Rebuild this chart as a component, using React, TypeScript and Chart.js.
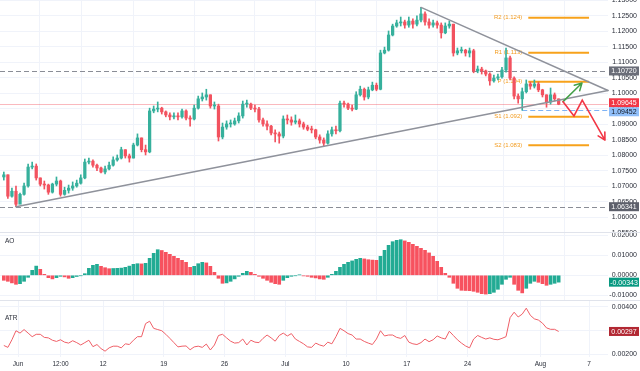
import React, { useEffect, useRef } from 'react';
import { Chart, registerables } from 'chart.js';

Chart.register(...registerables);

// ---------------- data ----------------
// 8-hour candles, first bar centred on day -7/6 (trading days counted from 1 Jun)
const firstOpen = 1.073;
const closes = [
  1.0737, 1.0668, 1.0684, 1.0642, 1.0674, 1.0701, 1.0762, 1.0765, 1.0727, 1.0707,
  1.0704, 1.0681, 1.0707, 1.0717, 1.0674, 1.0687, 1.0694, 1.0701, 1.071, 1.0727,
  1.0778, 1.0781, 1.0768, 1.0759, 1.0746, 1.0756, 1.0768, 1.0785, 1.0791, 1.0818,
  1.0798, 1.0791, 1.0833, 1.0856, 1.0818, 1.0811, 1.0943, 1.0949, 1.0952, 1.094,
  1.093, 1.0924, 1.0927, 1.0924, 1.0943, 1.092, 1.0917, 1.0952, 1.0982, 1.0988,
  1.0995, 1.0959, 1.0959, 1.0859, 1.0891, 1.0901, 1.0901, 1.0911, 1.0927, 1.0965,
  1.0965, 1.0952, 1.0949, 1.0914, 1.0901, 1.0894, 1.0872, 1.0869, 1.0862, 1.0917,
  1.0914, 1.0907, 1.0911, 1.0901, 1.0891, 1.0884, 1.0882, 1.0859, 1.0849, 1.0839,
  1.0869, 1.0882, 1.0879, 1.0968, 1.0965, 1.0952, 1.0949, 1.0995, 1.1013, 1.0988,
  1.1011, 1.1026, 1.1013, 1.113, 1.1139, 1.1188, 1.1217, 1.1227, 1.123, 1.122,
  1.1233, 1.1223, 1.1236, 1.1256, 1.123, 1.122, 1.1227, 1.122, 1.1195, 1.1217,
  1.1223, 1.113, 1.1137, 1.1139, 1.113, 1.1137, 1.1072, 1.1078, 1.1072, 1.1062,
  1.104, 1.1049, 1.1053, 1.1075, 1.1114, 1.1049, 1.0991, 1.0982, 1.1005, 1.103,
  1.1023, 1.103, 1.1011, 1.0995, 1.0972, 1.0995, 1.0982, 1.09645,
];
const highs = [
  1.0746, 1.0737, 1.0694, 1.0701, 1.0678, 1.071, 1.0772, 1.0778, 1.0772, 1.0727,
  1.0717, 1.0707, 1.071, 1.073, 1.072, 1.0697, 1.0704, 1.0714, 1.072, 1.0737,
  1.0788, 1.0791, 1.0785, 1.0772, 1.0762, 1.0765, 1.0778, 1.0795, 1.0801, 1.0826,
  1.0818, 1.0804, 1.0839, 1.0869, 1.0856, 1.0833, 1.0952, 1.0959, 1.0972, 1.0955,
  1.0943, 1.0937, 1.0937, 1.0937, 1.0949, 1.0947, 1.0927, 1.0962, 1.0991, 1.1001,
  1.1013, 1.0995, 1.0972, 1.0965, 1.0904, 1.0911, 1.0914, 1.092, 1.0937, 1.0975,
  1.0978, 1.0968, 1.0962, 1.0955, 1.092, 1.0911, 1.0897, 1.0882, 1.0875, 1.0927,
  1.093, 1.0924, 1.093, 1.0917, 1.0907, 1.0897, 1.0894, 1.0884, 1.0866, 1.0856,
  1.0879, 1.0891, 1.0894, 1.0975, 1.0975, 1.0968, 1.0962, 1.1005, 1.1023, 1.1017,
  1.102, 1.1036, 1.1033, 1.1139, 1.1149, 1.1201, 1.1223, 1.1236, 1.1246, 1.1236,
  1.1246, 1.124, 1.125, 1.1277, 1.1263, 1.124, 1.1236, 1.1233, 1.1227, 1.1227,
  1.1233, 1.1223, 1.1146, 1.1149, 1.1142, 1.1146, 1.1142, 1.1088, 1.1084, 1.1075,
  1.1066, 1.1059, 1.1062, 1.1084, 1.1146, 1.112, 1.1053, 1.0998, 1.1017, 1.1043,
  1.1036, 1.1043, 1.1036, 1.1013, 1.0995, 1.1017, 1.1001, 1.0982,
];
const lows = [
  1.072, 1.0661, 1.0665, 1.06341, 1.0655, 1.0671, 1.0697, 1.0756, 1.072, 1.0701,
  1.0691, 1.0674, 1.0678, 1.0701, 1.0668, 1.0671, 1.0678, 1.0687, 1.0697, 1.0707,
  1.0724, 1.0772, 1.0762, 1.075, 1.0743, 1.074, 1.0753, 1.0765, 1.0781, 1.0788,
  1.0791, 1.0778, 1.0791, 1.083, 1.0811, 1.0801, 1.0808, 1.0937, 1.094, 1.0933,
  1.0924, 1.0914, 1.0917, 1.0914, 1.092, 1.0914, 1.0894, 1.0914, 1.0949, 1.0975,
  1.0978, 1.0952, 1.0949, 1.0846, 1.0853, 1.0884, 1.0891, 1.0897, 1.0904, 1.092,
  1.0955, 1.0947, 1.094, 1.0907, 1.0894, 1.0882, 1.0866, 1.0843, 1.0839, 1.0856,
  1.0901, 1.0897, 1.0901, 1.0891, 1.0884, 1.0879, 1.0872, 1.0853, 1.0839, 1.0831,
  1.0836, 1.0862, 1.0869, 1.0875, 1.0955, 1.0947, 1.0943, 1.0947, 1.0991, 1.0978,
  1.0982, 1.1008, 1.1008, 1.1011, 1.1127, 1.1136, 1.1185, 1.1213, 1.1217, 1.121,
  1.1213, 1.121, 1.1217, 1.123, 1.122, 1.121, 1.1213, 1.121, 1.1178, 1.1192,
  1.121, 1.112, 1.1124, 1.113, 1.112, 1.1117, 1.1066, 1.1066, 1.1062, 1.1056,
  1.1026, 1.1036, 1.1043, 1.1049, 1.1068, 1.1043, 1.0982, 1.0968, 1.09452, 1.1001,
  1.1013, 1.1017, 1.1005, 1.0988, 1.0955, 1.0965, 1.0975, 1.0963,
];
const aoValues = [
  -0.0025, -0.003, -0.0038, -0.0045, -0.0042, -0.003, -0.001, 0.0025, 0.0046, 0.003,
  0.0005, -0.0012, -0.0018, -0.0012, -0.0005, -0.0008, -0.0015, -0.0012, -0.0006, -0.0002,
  0.0008, 0.0035, 0.005, 0.0055, 0.0045, 0.0038, 0.0033, 0.0034, 0.0035, 0.0036,
  0.004, 0.0046, 0.0055, 0.0058, 0.0057, 0.006, 0.0085, 0.011, 0.0128, 0.0124,
  0.0115, 0.0105, 0.0095, 0.0085, 0.0075, 0.0065, 0.004, 0.0045, 0.0058, 0.0065,
  0.0062, 0.0045, 0.0015, -0.0015, -0.004, -0.0038, -0.003, -0.0018, -0.0005, 0.001,
  0.002, 0.0015, 0.0005, -0.0005, -0.0015, -0.0025, -0.0035, -0.0042, -0.0045, -0.0025,
  -0.0012, -0.0005, -0.0002, 0.0002, -0.0003, -0.0005, -0.001, -0.0013, -0.0018, -0.002,
  -0.001, 0.0005, 0.002, 0.004, 0.0055, 0.0065, 0.0072, 0.008, 0.0085, 0.0082,
  0.0078, 0.0076, 0.0075, 0.0095, 0.0125, 0.015, 0.0168, 0.0175, 0.0178, 0.0172,
  0.0165, 0.0155, 0.0145, 0.0135, 0.0125, 0.0112, 0.0095, 0.007, 0.004, 0.001,
  -0.001, -0.004, -0.0065, -0.0075, -0.0076, -0.0077, -0.008, -0.0085, -0.0092, -0.0094,
  -0.0092, -0.0085, -0.007, -0.0045, -0.002, -0.001, -0.0045, -0.0075, -0.0088, -0.0065,
  -0.004, -0.003, -0.0035, -0.0042, -0.005, -0.0045, -0.004, -0.00343,
];
const atrValues = [
  0.00238, 0.0023, 0.00262, 0.003, 0.0029, 0.00305, 0.0029, 0.00275, 0.00285, 0.00285,
  0.00272, 0.0027, 0.0026, 0.00255, 0.00262, 0.00252, 0.00248, 0.00258, 0.0025, 0.0024,
  0.0025, 0.0026, 0.00233, 0.00242, 0.00225, 0.00214, 0.00228, 0.00235, 0.00235, 0.00228,
  0.00245, 0.00242, 0.0026, 0.00275, 0.00275, 0.0033, 0.0034, 0.0031, 0.00305, 0.003,
  0.00285, 0.00268, 0.0025, 0.00232, 0.00235, 0.00236, 0.0022, 0.00232, 0.00235, 0.0023,
  0.00244, 0.00219, 0.0024, 0.0028, 0.00285, 0.0027, 0.00256, 0.00248, 0.0025, 0.00265,
  0.0024, 0.0026, 0.00252, 0.0025, 0.00268, 0.00282, 0.0027, 0.00256, 0.0028, 0.0029,
  0.00278, 0.00288, 0.00265, 0.00255, 0.00245, 0.00232, 0.0023, 0.00248, 0.0024, 0.00235,
  0.00252, 0.00245, 0.00275, 0.0031, 0.003, 0.00288, 0.00282, 0.00265, 0.00265, 0.00255,
  0.00248, 0.00242, 0.00265, 0.003, 0.00278, 0.00282, 0.00282, 0.00272, 0.00268, 0.0028,
  0.00252, 0.00245, 0.00242, 0.0025, 0.00265, 0.00254, 0.00262, 0.00278, 0.0027, 0.00265,
  0.00298, 0.0028, 0.00262, 0.00248, 0.00236, 0.00228, 0.00265, 0.0028, 0.00272, 0.00265,
  0.0027, 0.00264, 0.00262, 0.00268, 0.00275, 0.00355, 0.00378, 0.00358, 0.0037, 0.00395,
  0.00365, 0.0035, 0.00345, 0.00332, 0.00312, 0.00306, 0.00306, 0.00297,
];
const tickDays = [0, 3.5, 7, 12, 17, 22, 27, 32, 37, 43, 47];
const tickLabels = ['Jun', '12:00', '12', '19', '26', 'Jul', '10', '17', '24', 'Aug', '7'];
const priceTicks = [1.055, 1.06, 1.065, 1.07, 1.075, 1.08, 1.085, 1.09, 1.095, 1.1, 1.105, 1.11, 1.115, 1.12, 1.125, 1.13];
const aoTicks = [-0.01, 0, 0.01, 0.02];
const atrTicks = [0.002, 0.003, 0.004];
const lastPrice = 1.09645;
const resistanceLevel = 1.1072;
const swingLow = 1.06341;
const recentLow = 1.09452;
const recentLowDay = 41.5;
const pivotNames = ['R2', 'R1', 'P', 'S1', 'S2'];
const pivotValues = [1.1244, 1.1131, 1.1037, 1.0924, 1.0832];
const pivotStartDay = 42;
const pivotEndDay = 47;
const lowerTrendDays = [-0.17, 48.56];
const lowerTrendPrices = [1.06341, 1.1009];
const upperTrendDays = [33.17, 48.56];
const upperTrendPrices = [1.1277, 1.1009];
const bullDays = [44.86, 46.42];
const bullPrices = [1.0973, 1.1033];
const bearDays = [44.86, 45.76, 46.44, 48.31];
const bearPrices = [1.0973, 1.0927, 1.0978, 1.0849];
const aoLast = -0.00343;
const atrLast = 0.00297;

// ---------------- layout / style ----------------
const FIRST_BAR_DAY = -7 / 6;
const BARS_PER_DAY = 3;
const X_MIN = -1.4815;
const X_MAX = 48.56;
const AXIS_W = 32;
const MAIN_MIN = 1.05525, MAIN_MAX = 1.13009;
const AO_MIN = -0.01235, AO_MAX = 0.02115;
const ATR_MIN = 0.0018947, ATR_MAX = 0.0042526;
const FONT = '"Liberation Sans", Arial, sans-serif';
const GRID = '#f0f3fa';
const TEXT = '#2a2e39';
const UP = '#36b09c';
const DOWN = '#f2525f';

const barDay = (i: number) => FIRST_BAR_DAY + i / BARS_PER_DAY;
const opens = closes.map((c, i) => (i === 0 ? firstOpen : closes[i - 1]));

const xScale = (height: number) => ({
  type: 'linear',
  min: X_MIN,
  max: X_MAX,
  offset: false,
  bounds: 'data',
  grid: { color: GRID, drawTicks: false },
  border: { display: false },
  ticks: { display: false },
  afterBuildTicks: (s: any) => {
    s.ticks = tickDays.map((v) => ({ value: v }));
  },
  afterFit: (s: any) => {
    s.height = height;
  },
});

const yScale = (min: number, max: number, ticks: number[]) => ({
  type: 'linear',
  position: 'right',
  min,
  max,
  bounds: 'data',
  grid: { color: GRID, drawTicks: false },
  border: { display: false },
  ticks: { display: false },
  afterBuildTicks: (s: any) => {
    s.ticks = ticks.map((v) => ({ value: v }));
  },
  afterFit: (s: any) => {
    s.width = AXIS_W;
  },
});

const baseOptions = (scales: any) => ({
  responsive: false,
  maintainAspectRatio: false,
  animation: false,
  devicePixelRatio: 1,
  events: [],
  layout: { padding: 0 },
  plugins: { legend: { display: false }, tooltip: { enabled: false } },
  scales,
});

function drawYLabels(chart: any, digits: number) {
  const { ctx, scales } = chart;
  const y = scales.y;
  ctx.save();
  ctx.font = `7px ${FONT}`;
  ctx.fillStyle = TEXT;
  ctx.textAlign = 'right';
  ctx.textBaseline = 'middle';
  y.ticks.forEach((t: any) => {
    ctx.fillText(t.value.toFixed(digits), y.right - 3, y.getPixelForValue(t.value));
  });
  ctx.restore();
}

type Box = { value: number; text: string; bg: string; fg: string };
function drawBoxes(chart: any, boxes: Box[]) {
  const { ctx, scales } = chart;
  const y = scales.y;
  const H = 9;
  const items = boxes
    .map((b) => ({ ...b, cy: y.getPixelForValue(b.value) }))
    .sort((a, b) => a.cy - b.cy);
  for (let i = 1; i < items.length; i++) {
    const ov = items[i - 1].cy + H - items[i].cy;
    if (ov > 0) {
      items[i - 1].cy -= ov / 2;
      items[i].cy += ov / 2;
    }
  }
  ctx.save();
  ctx.font = `7px ${FONT}`;
  ctx.textAlign = 'center';
  ctx.textBaseline = 'middle';
  items.forEach((b) => {
    ctx.fillStyle = b.bg;
    ctx.fillRect(y.left + 1, b.cy - H / 2, AXIS_W - 2, H);
    ctx.fillStyle = b.fg;
    ctx.fillText(b.text, y.left + 1 + (AXIS_W - 2) / 2, b.cy + 0.5);
  });
  ctx.restore();
}

function hLine(ctx: CanvasRenderingContext2D, x0: number, x1: number, py: number, color: string, width: number, dash: number[]) {
  ctx.save();
  ctx.strokeStyle = color;
  ctx.lineWidth = width;
  ctx.setLineDash(dash);
  ctx.beginPath();
  const yy = Math.round(py) + 0.5;
  ctx.moveTo(x0, yy);
  ctx.lineTo(x1, yy);
  ctx.stroke();
  ctx.restore();
}

function polyline(chart: any, days: number[], prices: number[], color: string, width: number, arrow: boolean) {
  const { ctx, scales } = chart;
  const pts = days.map((d, i) => ({ x: scales.x.getPixelForValue(d), y: scales.y.getPixelForValue(prices[i]) }));
  ctx.save();
  ctx.strokeStyle = color;
  ctx.lineWidth = width;
  ctx.lineJoin = 'miter';
  ctx.lineCap = 'round';
  ctx.beginPath();
  pts.forEach((p, i) => (i === 0 ? ctx.moveTo(p.x, p.y) : ctx.lineTo(p.x, p.y)));
  if (arrow) {
    const a = pts[pts.length - 2];
    const b = pts[pts.length - 1];
    const ang = Math.atan2(b.y - a.y, b.x - a.x);
    const len = 8;
    [-1, 1].forEach((s) => {
      const t = ang + Math.PI + s * 0.5;
      ctx.moveTo(b.x, b.y);
      ctx.lineTo(b.x + len * Math.cos(t), b.y + len * Math.sin(t));
    });
  }
  ctx.stroke();
  ctx.restore();
}

const mainPlugin = {
  id: 'mainOverlay',
  beforeDatasetsDraw(chart: any) {
    const { ctx, chartArea: a, scales } = chart;
    const { x, y } = scales;
    hLine(ctx, a.left, a.right, y.getPixelForValue(lastPrice), 'rgba(242,54,69,0.35)', 1, []);
    hLine(ctx, a.left, a.right, y.getPixelForValue(resistanceLevel), '#8a8d96', 1.2, [5, 3]);
    hLine(ctx, a.left, a.right, y.getPixelForValue(swingLow), '#8a8d96', 1.2, [5, 3]);
    hLine(ctx, x.getPixelForValue(recentLowDay), a.right, y.getPixelForValue(recentLow), '#7fb3f5', 1.2, [5, 3]);
    // pivot levels
    const x0 = x.getPixelForValue(pivotStartDay);
    const x1 = x.getPixelForValue(pivotEndDay);
    ctx.save();
    pivotValues.forEach((v, i) => {
      const py = y.getPixelForValue(v);
      ctx.strokeStyle = '#f7a21b';
      ctx.lineWidth = 2;
      ctx.beginPath();
      ctx.moveTo(x0, py);
      ctx.lineTo(x1, py);
      ctx.stroke();
      ctx.font = `6px ${FONT}`;
      ctx.fillStyle = '#f39c1f';
      ctx.textAlign = 'right';
      ctx.textBaseline = 'middle';
      ctx.fillText(`${pivotNames[i]} (${v.toFixed(3)})`, x0 - 6, py);
    });
    ctx.restore();
  },
  afterDatasetsDraw(chart: any) {
    polyline(chart, lowerTrendDays, lowerTrendPrices, '#8f929b', 1.5, false);
    polyline(chart, upperTrendDays, upperTrendPrices, '#8f929b', 1.5, false);
    polyline(chart, bullDays, bullPrices, '#43a047', 1.5, true);
    polyline(chart, bearDays, bearPrices, '#f23645', 1.6, true);
  },
  afterDraw(chart: any) {
    drawYLabels(chart, 5);
    drawBoxes(chart, [
      { value: resistanceLevel, text: resistanceLevel.toFixed(5), bg: '#6a6d78', fg: '#ffffff' },
      { value: lastPrice, text: lastPrice.toFixed(5), bg: '#f23645', fg: '#ffffff' },
      { value: recentLow, text: recentLow.toFixed(5), bg: '#90bff9', fg: '#131722' },
      { value: swingLow, text: swingLow.toFixed(5), bg: '#5d606b', fg: '#ffffff' },
    ]);
  },
};

function paneTitle(chart: any, text: string, py: number) {
  const { ctx } = chart;
  ctx.save();
  ctx.font = `6.5px ${FONT}`;
  ctx.fillStyle = TEXT;
  ctx.textAlign = 'left';
  ctx.textBaseline = 'middle';
  ctx.fillText(text, 5, py);
  ctx.restore();
}

const aoPlugin = {
  id: 'aoOverlay',
  afterDraw(chart: any) {
    paneTitle(chart, 'AO', 8);
    drawYLabels(chart, 5);
    drawBoxes(chart, [{ value: aoLast, text: aoLast.toFixed(5), bg: '#089981', fg: '#ffffff' }]);
  },
};

const atrPlugin = {
  id: 'atrOverlay',
  afterDraw(chart: any) {
    const { ctx, chartArea: a, scales } = chart;
    paneTitle(chart, 'ATR', 17);
    drawYLabels(chart, 5);
    drawBoxes(chart, [{ value: atrLast, text: atrLast.toFixed(5), bg: '#b22833', fg: '#ffffff' }]);
    ctx.save();
    ctx.font = `6.5px ${FONT}`;
    ctx.fillStyle = TEXT;
    ctx.textAlign = 'center';
    ctx.textBaseline = 'middle';
    tickDays.forEach((d, i) => {
      ctx.fillText(tickLabels[i], scales.x.getPixelForValue(d), a.bottom + 7);
    });
    ctx.restore();
  },
};

export default function App() {
  const mainRef = useRef<HTMLCanvasElement>(null);
  const aoRef = useRef<HTMLCanvasElement>(null);
  const atrRef = useRef<HTMLCanvasElement>(null);

  useEffect(() => {
    const candleColors = closes.map((c, i) => (c >= opens[i] ? UP : DOWN));
    const aoColors = aoValues.map((v, i) => (i > 0 && v >= aoValues[i - 1] ? '#22ab94' : '#f7525f'));

    const main = new Chart(mainRef.current as HTMLCanvasElement, {
      type: 'bar',
      data: {
        datasets: [
          {
            data: closes.map((c, i) => ({ x: barDay(i), y: [opens[i], c] })),
            backgroundColor: candleColors,
            barThickness: 2.6,
            minBarLength: 1,
            grouped: false,
            order: 0,
          } as any,
          {
            data: closes.map((_, i) => ({ x: barDay(i), y: [lows[i], highs[i]] })),
            backgroundColor: candleColors,
            barThickness: 1,
            grouped: false,
            order: 1,
          } as any,
        ],
      },
      options: baseOptions({ x: xScale(0), y: yScale(MAIN_MIN, MAIN_MAX, priceTicks) }) as any,
      plugins: [mainPlugin],
    });

    const ao = new Chart(aoRef.current as HTMLCanvasElement, {
      type: 'bar',
      data: {
        datasets: [
          {
            data: aoValues.map((v, i) => ({ x: barDay(i), y: v })),
            backgroundColor: aoColors,
            barThickness: 3,
          } as any,
        ],
      },
      options: baseOptions({ x: xScale(0), y: yScale(AO_MIN, AO_MAX, aoTicks) }) as any,
      plugins: [aoPlugin],
    });

    const atr = new Chart(atrRef.current as HTMLCanvasElement, {
      type: 'line',
      data: {
        datasets: [
          {
            data: atrValues.map((v, i) => ({ x: barDay(i), y: v })),
            borderColor: '#ef5f67',
            borderWidth: 1,
            pointRadius: 0,
            tension: 0,
            fill: false,
          } as any,
        ],
      },
      options: baseOptions({ x: xScale(14), y: yScale(ATR_MIN, ATR_MAX, atrTicks) }) as any,
      plugins: [atrPlugin],
    });

    return () => {
      main.destroy();
      ao.destroy();
      atr.destroy();
    };
  }, []);

  const abs = (top: number): React.CSSProperties => ({ position: 'absolute', left: 0, top });
  return (
    <div style={{ position: 'absolute', left: 0, top: 0, width: 640, height: 371, background: '#ffffff', overflow: 'hidden' }}>
      <canvas ref={mainRef} width={640} height={232} style={abs(0)} />
      <div style={{ ...abs(232), width: 640, height: 1, background: '#e0e3eb' }} />
      <canvas ref={aoRef} width={640} height={67} style={abs(233)} />
      <div style={{ ...abs(300), width: 640, height: 1, background: '#e0e3eb' }} />
      <canvas ref={atrRef} width={640} height={70} style={abs(301)} />
    </div>
  );
}
